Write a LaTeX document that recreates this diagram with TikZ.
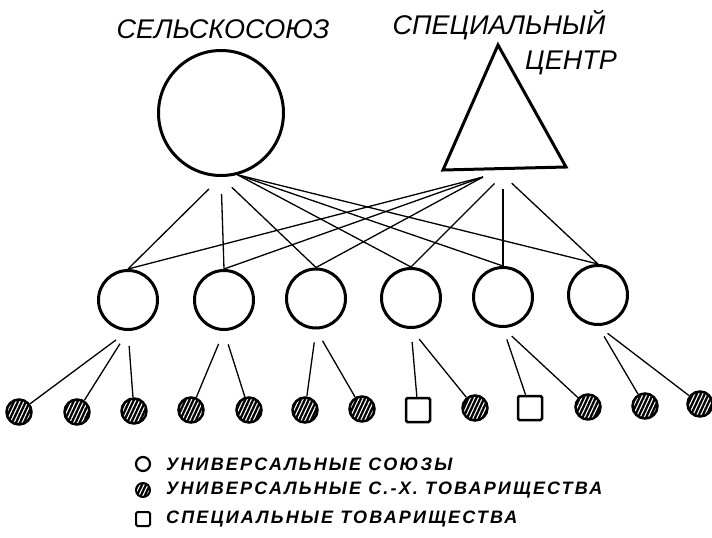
\documentclass[tikz,border=0pt]{standalone}
\usepackage{fontspec}
\setmainfont{Liberation Sans}
\newfontfamily\keyfont[LetterSpace=12]{Liberation Sans}
\usetikzlibrary{patterns.meta}
\begin{document}
\begin{tikzpicture}[x=1pt,y=-1pt,
  conn/.style={line width=1.3pt},
  bigcirc/.style={circle, draw, line width=3pt, minimum size=125pt, inner sep=0pt},
  union/.style={circle, draw, line width=3pt, minimum size=59pt, inner sep=0pt},
  hatch/.style={circle, draw, line width=2.5pt, minimum size=25pt, inner sep=0pt,
    preaction={fill=black},
    preaction={pattern={Lines[angle=65,distance=3.6pt,line width=1.1pt]}, pattern color=white}},
  spec/.style={rectangle, draw, line width=2.5pt, minimum size=24pt, inner sep=0pt, rounded corners=1.5pt, fill=white},
  keycirc/.style={circle, draw, line width=2.2pt, minimum size=14pt, inner sep=0pt},
  keyhatch/.style={hatch, minimum size=14pt, line width=2pt},
  keysq/.style={spec, minimum size=14pt, line width=2pt},
  toplbl/.style={font=\itshape\fontsize{27}{27}\selectfont, inner sep=0pt},
  keylbl/.style={font=\keyfont\bfseries\itshape\fontsize{18}{18}\selectfont, inner sep=0pt, anchor=west}
]
\useasboundingbox (0,0) rectangle (712,538);

% titles
\node[toplbl] (t1) at (223,29) {СЕЛЬСКОСОЮЗ};
\node[toplbl] (t2) at (499,25) {СПЕЦИАЛЬНЫЙ};
\node[toplbl] (t3) at (571,63) {ЦЕНТР};

% top level
\node[bigcirc] (S) at (221,113) {};
\coordinate (ta) at (498,45);
\coordinate (tl) at (443,170);
\coordinate (tr) at (566,167);
\draw[line width=3pt] (ta) -- (tl) -- (tr) -- cycle;
\coordinate (th) at (483,177);
\coordinate (tb) at (503,175);

% unions
\node[union] (c1) at (128,300) {};
\node[union] (c2) at (224,300) {};
\node[union] (c3) at (316,298.5) {};
\node[union] (c4) at (411,298) {};
\node[union] (c5) at (503,297) {};
\node[union] (c6) at (598,295) {};

% leaves
\node[hatch] (l1) at (19,412) {};
\node[hatch] (l2) at (77,412) {};
\node[hatch] (l3) at (134,411) {};
\node[hatch] (l4) at (191,410) {};
\node[hatch] (l5) at (249,410) {};
\node[hatch] (l6) at (305,410) {};
\node[hatch] (l7) at (362,409) {};
\node[spec]  (l8) at (418,410) {};
\node[hatch] (l9) at (475,408) {};
\node[spec]  (l10) at (530,408) {};
\node[hatch] (l11) at (588,407) {};
\node[hatch] (l12) at (645,406) {};
\node[hatch] (l13) at (700,404) {};

% connectors from Сельскосоюз
\draw[conn, shorten <=17pt] (S.south) -- (c1.north);
\draw[conn, shorten <=17pt] (S.south) -- (c2.north);
\draw[conn, shorten <=15pt] (S.south) -- (c3.north);
\draw[conn] (S.-75) -- (c4.north);
\draw[conn] (S.-75) -- (c5.north);
\draw[conn] (S.-75) -- (c6.north);

% connectors from special centre
\draw[conn] (th) -- (c1.north);
\draw[conn] (th) -- (c2.north);
\draw[conn] (th) -- (c3.north);
\draw[conn, shorten <=12pt] (tb) -- (c4.north);
\draw[conn, shorten <=14pt] (tb) -- (c5.north);
\draw[conn, shorten <=12pt] (tb) -- (c6.north);

% unions to partnerships
\draw[conn, shorten <=15pt] (c1.south) -- (l1);
\draw[conn, shorten <=15pt] (c1.south) -- (l2);
\draw[conn, shorten <=15pt] (c1.south) -- (l3);
\draw[conn, shorten <=14pt] (c2.south) -- (l4);
\draw[conn, shorten <=14pt] (c2.south) -- (l5);
\draw[conn, shorten <=13pt] (c3.south) -- (l6);
\draw[conn, shorten <=13pt] (c3.south) -- (l7);
\draw[conn, shorten <=13pt] (c4.south) -- (l8);
\draw[conn, shorten <=13pt] (c4.south) -- (l9);
\draw[conn, shorten <=12pt] (c5.south) -- (l10);
\draw[conn, shorten <=12pt] (c5.south) -- (l11);
\draw[conn, shorten <=12pt] (c6.south) -- (l12);
\draw[conn, shorten <=12pt] (c6.south) -- (l13);

% legend
\node[keycirc]  (k1) at (143,464) {};
\node[keyhatch] (k2) at (143,490) {};
\node[keysq]    (k3) at (143,519) {};
\node[keylbl] (k1t) at (166,464) {УНИВЕРСАЛЬНЫЕ СОЮЗЫ};
\node[keylbl] (k2t) at (166,490) {УНИВЕРСАЛЬНЫЕ С.-Х. ТОВАРИЩЕСТВА};
\node[keylbl] (k3t) at (166,519) {СПЕЦИАЛЬНЫЕ ТОВАРИЩЕСТВА};
\end{tikzpicture}
\end{document}
